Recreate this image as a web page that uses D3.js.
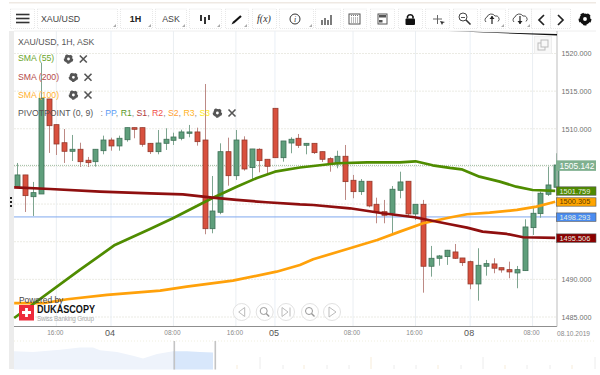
<!DOCTYPE html>
<html><head><meta charset="utf-8">
<script src="https://cdn.jsdelivr.net/npm/d3@7"></script>
<style>html,body{margin:0;padding:0;background:#fff;overflow:hidden}svg{display:block}text{font-family:"Liberation Sans",Arial,sans-serif}</style>
</head><body><svg id="c" width="600" height="375"></svg>
<script>
const opens=[1502.31,1503.87,1500.98,1501.34,1513.96,1510.55,1508.15,1507.01,1507.28,1505.82,1505.63,1507.09,1508.51,1507.72,1508.55,1510.15,1510.15,1508.07,1506.96,1508.07,1508.47,1508.74,1509.40,1509.58,1508.51,1496.73,1498.91,1506.96,1503.77,1508.51,1504.84,1507.28,1505.95,1512.72,1506.16,1508.11,1508.74,1507.81,1508.07,1506.96,1506.03,1505.33,1506.35,1503.16,1501.65,1503.03,1499.97,1498.99,1498.78,1501.83,1503.03,1498.69,1499.97,1491.74,1492.80,1493.02,1493.64,1492.84,1492.35,1489.39,1491.74,1492.05,1491.55,1491.29,1490.85,1491.16,1496.87,1498.73,1501.30,1502.23];
const closes=[1503.87,1501.12,1501.52,1514.05,1510.41,1507.98,1507.01,1507.28,1505.63,1505.50,1507.28,1508.51,1507.72,1508.74,1510.15,1509.93,1507.94,1506.96,1508.11,1508.61,1508.91,1509.58,1509.58,1508.29,1496.73,1499.08,1506.96,1503.77,1508.51,1504.66,1507.32,1505.77,1505.02,1506.16,1508.38,1508.61,1507.81,1508.07,1506.83,1505.95,1505.33,1506.35,1502.98,1501.65,1503.03,1499.75,1498.99,1498.51,1501.97,1502.94,1498.69,1499.97,1491.74,1492.80,1493.11,1493.87,1492.80,1492.22,1489.39,1491.87,1492.09,1491.48,1491.25,1490.99,1491.29,1496.96,1498.78,1501.44,1502.54,1505.19];
const highs=[1505.46,1503.87,1502.94,1518.74,1513.96,1510.55,1509.97,1509.18,1508.15,1506.26,1507.28,1509.09,1508.82,1509.09,1510.15,1510.15,1510.15,1508.11,1509.84,1510.07,1509.48,1509.88,1510.51,1510.15,1515.95,1503.73,1508.07,1508.82,1509.84,1509.00,1507.32,1507.41,1505.95,1512.72,1508.38,1508.87,1509.31,1508.11,1508.07,1506.96,1506.22,1507.09,1507.85,1503.87,1503.33,1503.03,1500.85,1500.55,1502.40,1504.30,1503.03,1499.97,1500.55,1494.44,1493.24,1493.91,1494.70,1492.84,1492.49,1494.13,1492.58,1492.80,1491.55,1492.35,1491.78,1497.98,1499.48,1501.65,1504.97,1506.75];
const lows=[1502.27,1498.95,1498.42,1501.34,1506.79,1506.52,1505.46,1505.72,1504.93,1504.93,1504.97,1506.61,1507.09,1507.09,1508.29,1508.74,1507.62,1506.65,1506.61,1507.19,1507.85,1508.47,1508.87,1507.76,1495.99,1496.12,1498.65,1502.44,1503.20,1504.44,1503.30,1504.22,1503.96,1506.16,1505.63,1506.75,1507.45,1506.61,1506.65,1505.59,1504.30,1504.75,1500.55,1500.77,1501.21,1499.57,1497.45,1497.45,1496.12,1500.77,1498.33,1497.89,1488.23,1490.36,1491.82,1491.92,1492.71,1491.78,1488.69,1487.17,1490.49,1490.81,1490.89,1490.15,1488.82,1491.12,1495.90,1498.19,1501.08,1502.23];

const sma55Idx=[-0.4,8,12.5,17,20,25,28.1,30.7,33,36.2,41,44.8,49,51,53.2,55.4,56.9,59.2,61.8,63.9,66,68.9];
const sma55Val=[1484.87,1491.25,1494.57,1496.70,1498.15,1500.81,1502.31,1503.47,1504.30,1504.86,1505.42,1505.55,1505.55,1505.68,1505.15,1504.80,1504.62,1503.64,1502.98,1502.31,1501.87,1501.76];
const sma200Idx=[-0.4,4.2,10.6,17,21.2,25,28.1,31.9,36.2,37.9,42.6,46.8,50.9,55.4,57.6,59.6,62.7,64.8,68.9];
const sma200Val=[1502.23,1502.00,1501.65,1501.41,1501.30,1500.85,1500.55,1500.24,1499.95,1499.88,1499.44,1498.78,1498.25,1497.32,1496.87,1496.34,1496.03,1495.59,1495.51];
const sma100Idx=[-0.4,3.3,6.4,11.5,18.3,21.7,27.6,33.2,36.2,37.9,42.6,46.1,49,52,55.4,57.6,60.5,64,66.5,68.9];
const sma100Val=[1486.83,1486.83,1487.36,1487.93,1488.50,1489.03,1489.83,1491.02,1491.91,1492.67,1494.13,1495.23,1496.34,1497.45,1498.22,1498.65,1498.86,1499.22,1499.66,1500.31];

const yTicks=[1485,1490,1495,1500,1505,1510,1515,1520];
const yLabelTicks=[1485,1490,1510,1515,1520];
const xTickIdx=[5,12,20,28,33,43,51,58,66];
const xTickLabels=["16:00","04","08:00","16:00","05","08:00","16:00","08","08:00"];
const dayLabels=["04","05","08"];
const pivotValue=1498.293, lastValue=1505.142;
const priceTags=[["1501.759",1501.759,"#4f8a00"],["1500.305",1500.305,"#ffa500"],["1498.293",1498.293,"#4a8cf0"],["1495.506",1495.506,"#8b0000"]];
const navX=[14,33,60,80,93,100,117,133,143,157,173,187,200,213];
const navV=[40,38,43,48,48,42,38,30,24,34,40,40,38,37];
const navTicks=[237,260,283,304,327,349,371,394,416,438,461,483,505,527,550,572,595];

const svg=d3.select("#c");
const L=14,R=557,T=31,B=326.5;
const x=d3.scaleLinear().domain([0,69]).range([17.3,556]);
const y=d3.scaleLinear().domain([1520,1485]).range([53.5,317]);

// frame & gutter
svg.append("rect").attr("x",9).attr("y",2).attr("width",587).attr("height",1.5).attr("fill","#efe9e3");
svg.append("rect").attr("x",9).attr("y",31).attr("width",5).attr("height",338).attr("fill","#ececec");
svg.append("line").attr("x1",14).attr("x2",596).attr("y1",31).attr("y2",31).attr("stroke","#eeeeee");

// grid
const grid=svg.append("g");
grid.selectAll(".h").data(yTicks).join("line").attr("x1",L).attr("x2",R).attr("y1",d=>y(d)).attr("y2",d=>y(d))
 .attr("stroke","#ebebe4").attr("stroke-dasharray","2 1");
grid.selectAll(".v").data(xTickIdx).join("line").attr("x1",d=>x(d)).attr("x2",d=>x(d)).attr("y1",T).attr("y2",B)
 .attr("stroke",(d,i)=>dayLabels.includes(xTickLabels[i])?"#e9eff6":"#eaeef2");

// reference lines
svg.append("line").attr("x1",L).attr("x2",R).attr("y1",y(pivotValue)).attr("y2",y(pivotValue)).attr("stroke","#7fa9ee").attr("stroke-width",1);
svg.append("line").attr("x1",L).attr("x2",R).attr("y1",y(lastValue)).attr("y2",y(lastValue)).attr("stroke","#9dbb9f").attr("stroke-dasharray","1 1");

// candles
const idx=d3.range(opens.length);
const g=svg.append("g");
g.selectAll(".w").data(idx).join("line")
 .attr("x1",i=>Math.round(x(i))+.5).attr("x2",i=>Math.round(x(i))+.5)
 .attr("y1",i=>y(highs[i])).attr("y2",i=>y(lows[i]))
 .attr("stroke",i=>closes[i]>=opens[i]?"#7ea590":"#bd8a85").attr("stroke-width",1);
g.selectAll(".b").data(idx).join("rect")
 .attr("x",i=>Math.round(x(i))-2).attr("width",5)
 .attr("y",i=>y(Math.max(opens[i],closes[i])))
 .attr("height",i=>Math.max(1,Math.abs(y(opens[i])-y(closes[i]))))
 .attr("fill",i=>closes[i]>=opens[i]?"#5f9f7c":"#d8503e")
 .attr("stroke",i=>closes[i]>=opens[i]?"#3f7057":"#93392c").attr("stroke-width",.8);

// SMA lines
const smaLine=d3.line().x(d=>x(d[0])).y(d=>y(d[1]));
[[sma100Idx,sma100Val,"#ffa10a"],[sma55Idx,sma55Val,"#4f8c00"],[sma200Idx,sma200Val,"#8f0f0f"]].forEach(([a,b,c])=>{
 svg.append("path").attr("d",smaLine(a.map((v,i)=>[v,b[i]]))).attr("fill","none").attr("stroke",c).attr("stroke-width",2.7).attr("stroke-linejoin","round");
});

// axes
const yAxis=d3.axisRight(y).tickValues(yLabelTicks).tickFormat(d3.format(".3f")).tickSize(0).tickPadding(4.5);
const ya=svg.append("g").attr("transform",`translate(${R},0)`).call(yAxis);
ya.select(".domain").remove();
ya.selectAll("line").remove();
ya.selectAll("text").attr("fill","#6f6f6f").style("font-size","7.2px").style("font-family",'"Liberation Sans",Arial,sans-serif');
const xAxis=d3.axisBottom(x).tickValues(xTickIdx).tickFormat((d,i)=>xTickLabels[i]).tickSize(0).tickPadding(4);
const xa=svg.append("g").attr("transform",`translate(0,${B})`).call(xAxis);
xa.select(".domain").remove();
xa.selectAll("text").attr("fill",(d,i)=>dayLabels.includes(xTickLabels[i])?"#555":"#8a8a8a")
 .style("font-size",(d,i)=>dayLabels.includes(xTickLabels[i])?"9px":"6.5px")
 .style("font-family",'"Liberation Sans",Arial,sans-serif')
 .attr("dx",-1.5);
xa.selectAll("text").filter((d,i)=>dayLabels.includes(xTickLabels[i])).attr("y",3);
svg.append("line").attr("x1",L).attr("x2",R).attr("y1",B).attr("y2",B).attr("stroke","#8f8f8f").attr("stroke-width",1);
svg.append("line").attr("x1",R).attr("x2",R).attr("y1",31).attr("y2",B).attr("stroke","#bdbdbd").attr("stroke-width",1);
svg.append("text").attr("x",557).attr("y",336).attr("font-size",6.6).attr("fill","#8a8a8a").text("08.10.2019");

// wedge at the top of the chart
svg.append("path").attr("d","M448,31 L557,34 L557,35.5 Z").attr("fill","#111");

// price tags
const tags=svg.append("g");
tags.append("rect").attr("x",556).attr("y",y(lastValue)-5).attr("width",40).attr("height",10.5).attr("fill","#7fb08f");
tags.append("text").attr("x",559.5).attr("y",y(lastValue)+3.2).attr("font-size",8.4).attr("fill","#fff").text(lastValue.toFixed(3));
priceTags.forEach(([t,v,c])=>{
 tags.append("rect").attr("x",556.5).attr("y",y(v)-4).attr("width",39.5).attr("height",8.4).attr("fill",c).attr("stroke","#555").attr("stroke-width",.6);
 tags.append("text").attr("x",559.5).attr("y",y(v)+2.7).attr("font-size",7.4).attr("fill",c==="#ffa500"?"#5b3c00":"#e6eee0").text(t);
});

// legend
const lg=svg.append("g").attr("font-size",8.7);
lg.append("text").attr("x",18).attr("y",44.5).attr("fill","#555").text("XAU/USD, 1H, ASK");
lg.append("text").attr("x",18).attr("y",61.2).attr("fill","#6aa52b").text("SMA (55)");
lg.append("text").attr("x",18).attr("y",80).attr("fill","#b54a4a").text("SMA (200)");
lg.append("text").attr("x",18).attr("y",97.8).attr("fill","#ffb02e").text("SMA (100)");
lg.append("text").attr("x",18).attr("y",116).attr("fill","#555").text("PIVOTPOINT (0, 9)");
const piv=lg.append("text").attr("x",100.5).attr("y",116);
[[": ","#888"],["PP","#5b9cf5"],[", ","#888"],["R1","#5a9a2a"],[", ","#888"],["S1","#b03a3a"],[", ","#888"],["R2","#f0504a"],[", ","#888"],["S2","#ffa030"],[", ","#888"],["R3","#ffb52a"],[", ","#888"],["S3","#ffe81a"]]
 .forEach(([t,c])=>piv.append("tspan").attr("fill",c).text(t));

function gear(px,py,r,c){
 const s=svg.append("g").attr("transform",`translate(${px},${py})`);
 s.append("circle").attr("r",r*.62).attr("fill","none").attr("stroke",c).attr("stroke-width",r*.6);
 s.append("circle").attr("r",r*.9).attr("fill","none").attr("stroke",c).attr("stroke-width",r*.35).attr("stroke-dasharray",`${r*.55} ${r*.58}`);
}
function cross(px,py,c){
 svg.append("path").attr("d",`M${px-3.5},${py-3.5}L${px+3.5},${py+3.5}M${px+3.5},${py-3.5}L${px-3.5},${py+3.5}`).attr("stroke",c).attr("stroke-width",1.6).attr("fill","none");
}
[[68.5,59,83.3],[73.4,77.3,88],[73.4,95,88],[217.4,113,232]].forEach(([a,yy,b])=>{gear(a,yy,4.4,"#555");cross(b,yy,"#555");});

// toolbar
const bar=svg.append("g");
const boxes=[[10,34,0],[37,117,1],[120,152,1],[155,186,1],[189,221,1],[225,248,1],[252,276,0],[279,313,1],[315,340,0],[343,366,0],[370,394,0],[398,422,0],[425,449,0],[453,477,0],[480,505,1],[508,531,1],[531,550,0],[550,570,0]];
boxes.forEach(([a,b,tri])=>{
 bar.append("rect").attr("x",a+.5).attr("y",9).attr("width",b-a).attr("height",19.5).attr("fill","#fff").attr("stroke","#e8e8e8").attr("stroke-dasharray","1 1");
 if(tri) bar.append("path").attr("d",`M${b-1},${24}L${b-1},${27}L${b-4},${27}Z`).attr("fill","#aaa");
});
bar.selectAll(".hb").data([14.5,18.5,22.5]).join("line").attr("x1",16).attr("x2",29.5).attr("y1",d=>d).attr("y2",d=>d).attr("stroke","#333").attr("stroke-width",1.6);
const bt=(t,xx,fs,c,w,fam)=>bar.append("text").attr("x",xx).attr("y",21.5).attr("text-anchor","middle").attr("font-size",fs).attr("fill",c).attr("font-weight",w||"normal").style("font-family",fam||null).text(t);
bar.append("text").attr("x",41).attr("y",21.5).attr("font-size",8.8).attr("fill","#444").text("XAU/USD");
bt("1H",135.5,9,"#222","bold");
bt("ASK",171,8.8,"#444");
// candle-type icon
[[201,15,21,"#333"],[205,17,24,"#333"],[209,15,20,"#333"]].forEach(([a,p,q,c])=>{
 bar.append("line").attr("x1",a).attr("x2",a).attr("y1",p).attr("y2",q).attr("stroke",c).attr("stroke-width",2);
});
bar.append("path").attr("d","M233,23L241,16").attr("stroke","#111").attr("stroke-width",2.2);
bar.append("path").attr("d","M231.5,24.5l1,-2l1,1z").attr("fill","#111");
bt("f(x)",264,10,"#333","normal",'"Liberation Serif",serif').attr("font-style","italic");
bar.append("circle").attr("cx",295).attr("cy",19).attr("r",5).attr("fill","none").attr("stroke","#333");
bar.append("text").attr("x",295).attr("y",22).attr("text-anchor","middle").attr("font-size",8).attr("font-style","italic").attr("fill","#333").style("font-family",'"Liberation Serif",serif').text("i");
[[322,20,25],[325,18,25],[328,20,25],[331,15,25]].forEach(([a,p,q])=>bar.append("line").attr("x1",a).attr("x2",a).attr("y1",p).attr("y2",q).attr("stroke","#444").attr("stroke-width",1.4));
// calendar
bar.append("rect").attr("x",349).attr("y",14).attr("width",11).attr("height",10).attr("fill","#fff").attr("stroke","#555");
bar.append("path").attr("d","M351,15.5h7M351,18h7M351,20h7M351,22h7").attr("stroke","#777").attr("stroke-dasharray","1 1");
// widget
bar.append("rect").attr("x",378).attr("y",14).attr("width",9).attr("height",10).attr("fill","#fff").attr("stroke","#555");
bar.append("rect").attr("x",379).attr("y",15).attr("width",7).attr("height",2.5).attr("fill","#555");
bar.append("rect").attr("x",379).attr("y",20).attr("width",3.5).attr("height",2.5).attr("fill","#555");
// lock
bar.append("rect").attr("x",405.5).attr("y",18.5).attr("width",9.5).attr("height",6.5).attr("rx",1).attr("fill","#111");
bar.append("path").attr("d","M407.5,18.5v-2a3,3 0 0 1 5.5,0v2").attr("fill","none").attr("stroke","#111").attr("stroke-width",1.6);
// crosshair
bar.append("path").attr("d","M433,19h9M437.5,15v9").attr("stroke","#666").attr("stroke-width",1);
bar.append("path").attr("d","M440,21l5,1l-2,1l-1,2z").attr("fill","#333");
// magnifier
bar.append("circle").attr("cx",463).attr("cy",17).attr("r",4).attr("fill","none").attr("stroke","#444");
bar.append("path").attr("d","M466,20l4.5,4.5").attr("stroke","#333").attr("stroke-width",1.6);
bar.append("path").attr("d","M461,17.5h4").attr("stroke","#555");
// clouds
[[492,-1],[520,1]].forEach(([cx,dir])=>{
 bar.append("path").attr("d",`M${cx-6},22a3,3 0 0 1 1,-5a4.5,4.5 0 0 1 8,-1a3.2,3.2 0 0 1 3,5.5`).attr("fill","none").attr("stroke","#555");
 bar.append("path").attr("d",`M${cx},16v8`).attr("stroke","#222").attr("stroke-width",1.2);
 bar.append("path").attr("d",dir<0?`M${cx-2.5},19l2.5,-3l2.5,3z`:`M${cx-2.5},21l2.5,3l2.5,-3z`).attr("fill","#222");
});
bar.append("path").attr("d","M544,15l-5,5l5,5").attr("fill","none").attr("stroke","#222").attr("stroke-width",1.7);
bar.append("path").attr("d","M558,15l5,5l-5,5").attr("fill","none").attr("stroke","#222").attr("stroke-width",1.7);
gear(585,19,6,"#111");

// expand icon
svg.append("rect").attr("x",534.5).attr("y",36.5).attr("width",17).attr("height",17).attr("fill","#f8f8f8").attr("stroke","#eee");
svg.append("rect").attr("x",538).attr("y",43).attr("width",7).attr("height",7).attr("fill","none").attr("stroke","#bbb");
svg.append("rect").attr("x",541).attr("y",40).attr("width",7).attr("height",7).attr("fill","#f8f8f8").attr("stroke","#bbb");

// powered by
svg.append("text").attr("x",19).attr("y",302.5).attr("font-size",8.4).attr("fill","#444").text("Powered by");
svg.append("rect").attr("x",19).attr("y",305).attr("width",15).attr("height",15.5).attr("fill","#ee2a3a");
svg.append("path").attr("d","M26.5,308v9M22,312.5h9").attr("stroke","#fff").attr("stroke-width",2.8);
svg.append("text").attr("x",37).attr("y",313).attr("font-size",10).attr("font-weight","bold").attr("fill","#111").attr("textLength",58).attr("lengthAdjust","spacingAndGlyphs").text("DUKASCOPY");
svg.append("text").attr("x",37).attr("y",320.5).attr("font-size",6.4).attr("fill","#aaa").attr("textLength",57).text("Swiss Banking Group");

// nav buttons
const navB=[[241.7,"prev"],[264.7,"out"],[286,"end"],[310,"in"],[332,"play"]];
navB.forEach(([cx,k])=>{
 svg.append("circle").attr("cx",cx).attr("cy",312).attr("r",8.5).attr("fill","#fff").attr("fill-opacity",.7).attr("stroke","#e2e2e2");
 const c="#bbb";
 if(k==="prev") svg.append("path").attr("d",`M${cx+3},307.5v9l-6,-4.5z`).attr("fill","none").attr("stroke",c);
 if(k==="end"){svg.append("path").attr("d",`M${cx-4},307.5v9l6,-4.5z`).attr("fill","none").attr("stroke",c);svg.append("path").attr("d",`M${cx+4},307.5v9`).attr("stroke",c);}
 if(k==="play") svg.append("path").attr("d",`M${cx-3},307v10l7,-5z`).attr("fill","none").attr("stroke",c);
 if(k==="out"||k==="in"){
  svg.append("circle").attr("cx",cx-1).attr("cy",311).attr("r",3.5).attr("fill","none").attr("stroke","#999");
  svg.append("path").attr("d",`M${cx+1.5},313.5l3,3`).attr("stroke","#999").attr("stroke-width",1.4);
 }
});

// navigator
const nY=d3.scaleLinear().domain([0,60]).range([369.5,342]);
svg.append("line").attr("x1",14).attr("x2",596).attr("y1",341).attr("y2",341).attr("stroke","#f0efe0").attr("stroke-dasharray","1 2");
const nArea=d3.area().x(d=>d[0]).y0(nY(0)).y1(d=>nY(d[1])).curve(d3.curveLinear);
const navData=navX.map((v,i)=>[v,navV[i]]);
svg.append("path").attr("d",nArea(navData.filter(d=>d[0]<=174))).attr("fill","#eef3fb");
svg.append("path").attr("d",nArea(navData.filter(d=>d[0]>=173))).attr("fill","#d8e7fb");
svg.selectAll(".nh").data([174,215]).join("rect").attr("x",d=>d-.5).attr("y",341).attr("width",1.6).attr("height",28.5).attr("fill","#c4c4c4");
svg.selectAll(".nt").data(navTicks).join("line").attr("x1",d=>d).attr("x2",d=>d).attr("y1",(d,i)=>i%5===1?357:365).attr("y2",369)
 .attr("stroke",(d,i)=>i%3===0?"#f7ecd9":"#ececec");

// three dots handle
svg.selectAll(".dot").data([198,202,206]).join("rect").attr("x",10).attr("y",d=>d-1).attr("width",2).attr("height",2).attr("fill","#222");
</script></body></html>
